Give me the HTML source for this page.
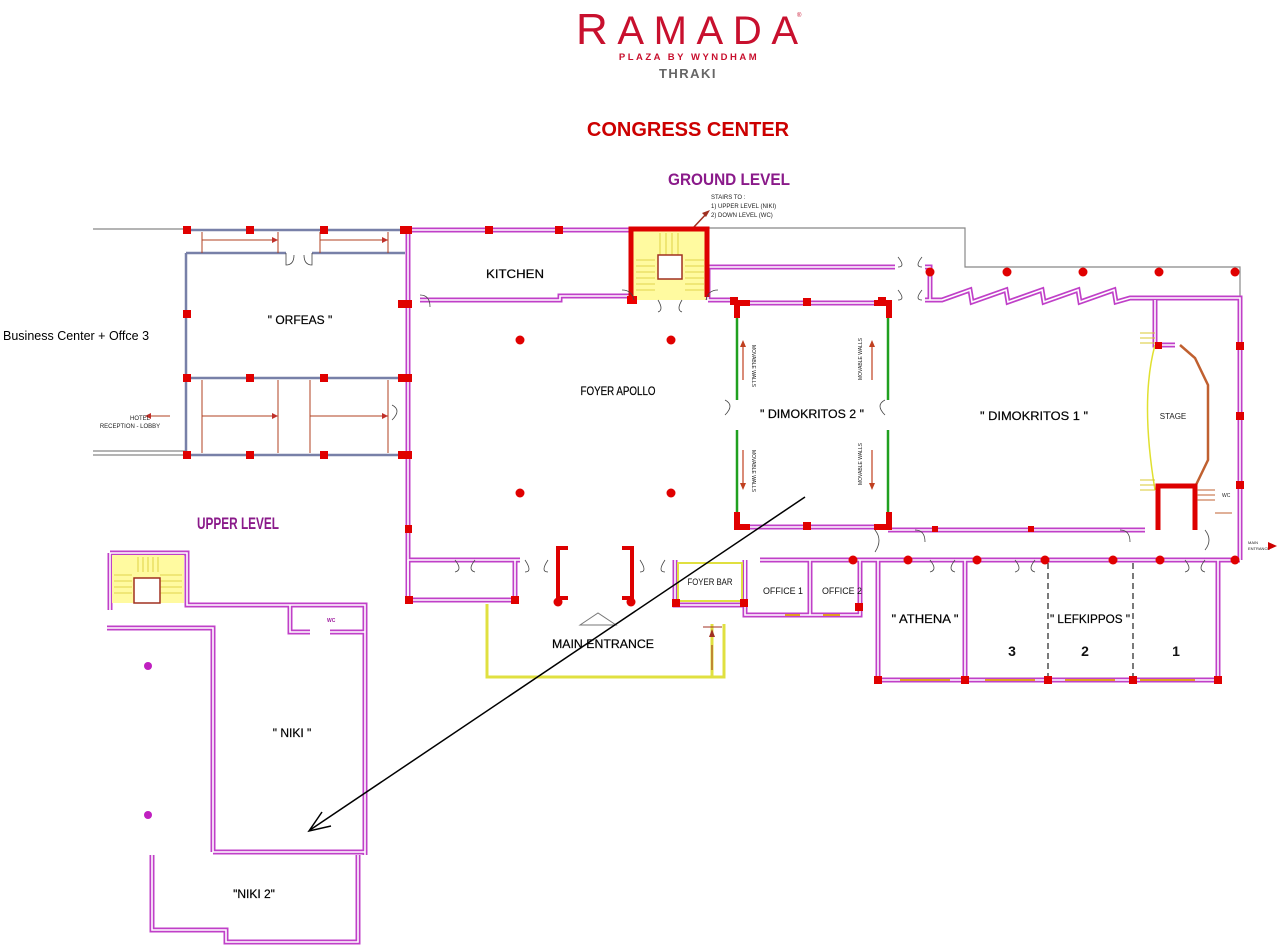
<!DOCTYPE html>
<html><head><meta charset="utf-8"><style>
html,body{margin:0;padding:0;background:#fff;}
svg{display:block;}
text{font-family:"Liberation Sans",sans-serif;}
</style></head><body>
<svg width="1280" height="947" viewBox="0 0 1280 947" xmlns="http://www.w3.org/2000/svg">
<!-- Header -->
<text x="576" y="44" font-family="Liberation Sans" font-size="44" fill="#c8102e" textLength="222" lengthAdjust="spacing">R<tspan font-size="40">AMADA</tspan></text>
<text x="797" y="17" font-size="6" fill="#c8102e">®</text>
<text x="689" y="60" text-anchor="middle" font-size="9.5" font-weight="bold" fill="#c8102e" letter-spacing="2.5">PLAZA BY WYNDHAM</text>
<text x="688" y="78" text-anchor="middle" font-size="13" font-weight="bold" fill="#666" letter-spacing="1.5">THRAKI</text>
<text x="688" y="136" text-anchor="middle" font-size="20" font-weight="bold" fill="#cc0000">CONGRESS CENTER</text>
<text x="729" y="185" text-anchor="middle" font-size="17" font-weight="bold" fill="#8a1a8a" textLength="122" lengthAdjust="spacingAndGlyphs">GROUND LEVEL</text>
<text x="238" y="529" text-anchor="middle" font-size="17" font-weight="bold" fill="#8a1a8a" textLength="82" lengthAdjust="spacingAndGlyphs">UPPER LEVEL</text>
<text x="711" y="199" font-size="6" fill="#222">STAIRS TO :</text>
<text x="711" y="208" font-size="6" fill="#222">1) UPPER LEVEL (NIKI)</text>
<text x="711" y="217" font-size="6" fill="#222">2) DOWN LEVEL (WC)</text>
<line x1="693" y1="228" x2="708" y2="212" stroke="#a03020" stroke-width="1.5"/>
<polygon points="710,210 702,213 706,217" fill="#a03020"/>

<g stroke="#888" stroke-width="1.2" fill="none">
<path d="M708 228 H965 V267 H1240 V300"/>
<path d="M93 229 H186"/><path d="M93 451 H186 M93 455 H186"/>
</g>

<g stroke="#7880a8" stroke-width="2.5" fill="none">
<path d="M186 230 H405"/>
<path d="M186 253 V455 H405"/>
<path d="M186 253 H286 M312 253 H405"/>
<path d="M186 378 H405"/>
</g>
<g stroke="#b04020" stroke-width="1" fill="none">
<path d="M202 232 V253 M278 232 V253 M320 232 V253 M388 232 V253"/>
<path d="M202 240 H276 M320 240 H388"/>
<path d="M202 380 V453 M278 380 V453 M310 380 V453 M388 380 V453"/>
<path d="M202 416 H276 M310 416 H388"/>
<path d="M145 416 H170"/>
</g>
<g fill="#c0302a"><polygon points="278,416 272,413 272,419"/><polygon points="388,416 382,413 382,419"/><polygon points="278,240 272,237 272,243"/><polygon points="388,240 382,237 382,243"/><polygon points="145,416 151,413 151,419"/></g>
<text x="140" y="420" font-size="6" fill="#222" text-anchor="middle">HOTEL</text>
<text x="130" y="428" font-size="6" fill="#222" text-anchor="middle">RECEPTION - LOBBY</text>

<g id="walls" fill="none">
<path d="M408 230 H630 M708 230"/>
<path d="M408 230 V600"/>
<path d="M420 300 H560 V296 H630"/>
<path d="M708 300 V267 H895"/>
<path d="M708 300 H737"/>
<path d="M925 267 H930 V300"/>
<path d="M737 303 H888"/>
<path d="M925 300 H942 L970 290 L972 302 L1006 290 L1008 302 L1042 290 L1044 302 L1078 290 L1080 302 L1114 290 L1116 302 L1130 298 H1240 V535"/>
<path d="M1155 300 V345 H1175"/>
<path d="M888 530 H1145"/>
<path d="M737 527 H888"/>
<path d="M408 560 H520 M408 560 V600 H515 V560"/>
<path d="M760 560 H1240"/>
<path d="M675 560 V605 H745 V560"/>
<path d="M745 560 V615 H860 V560 M810 560 V615"/>
<path d="M878 560 V680 H1218 V560"/>
<path d="M965 560 V680"/>
<path d="M1240 535 V560"/>
<path d="M110 553 H187 V605 H365 V855"/>
<path d="M110 553 V610"/>
<path d="M107 628 H213 V852"/>
<path d="M290 605 V632 H310 M330 632 H365"/>
<path d="M213 852 H365"/>
<path d="M152 855 V930 H226 V942 H358 V855"/>
</g>
<use href="#walls" stroke="#c040c8" stroke-width="5"/>
<use href="#walls" stroke="#fff" stroke-width="1.6"/>

<g stroke="#20a020" stroke-width="2.5"><path d="M737 315 V400 M737 430 V518 M888 315 V400 M888 430 V518"/></g>
<g fill="#e00000">
<path d="M734 300 h16 v6 h-10 v12 h-6z"/><path d="M874 300 h18 v18 h-6 v-12 h-12z"/>
<path d="M734 530 h16 v-6 h-10 v-12 h-6z"/><path d="M874 530 h18 v-18 h-6 v12 h-12z"/>
<rect x="803" y="298" width="8" height="8"/><rect x="803" y="522" width="8" height="8"/>
</g>
<g stroke="#c04020" stroke-width="1.2"><path d="M743 345 V380 M743 450 V485 M872 345 V380 M872 450 V485"/></g>
<g fill="#c04020"><polygon points="743,340 740,347 746,347"/><polygon points="743,490 740,483 746,483"/><polygon points="872,340 869,347 875,347"/><polygon points="872,490 869,483 875,483"/></g>
<g font-size="5" fill="#222"><text transform="translate(752,345) rotate(90)">MOVABLE WALLS</text><text transform="translate(752,450) rotate(90)">MOVABLE WALLS</text><text transform="translate(862,380) rotate(-90)">MOVABLE WALLS</text><text transform="translate(862,485) rotate(-90)">MOVABLE WALLS</text></g>

<rect x="632" y="230" width="74" height="70" fill="#fffaa0"/>
<g stroke="#d8c830" stroke-width="0.8"><path d="M636 260 H655 M636 266 H655 M636 272 H655 M636 278 H655 M636 284 H655 M636 290 H655 M685 260 H704 M685 266 H704 M685 272 H704 M685 278 H704 M685 284 H704 M685 290 H704 M660 233 V255 M666 233 V255 M672 233 V255 M678 233 V255"/></g>
<rect x="658" y="255" width="24" height="24" fill="#fff" stroke="#a03020" stroke-width="1.5"/>
<path d="M631 297 V229 H707 V297" fill="none" stroke="#d00" stroke-width="5"/>
<rect x="627" y="296" width="10" height="8" fill="#e00"/>

<path d="M1155 345 Q1140 400 1155 490" fill="none" stroke="#e0e030" stroke-width="1.5"/>
<path d="M1180 345 L1195 358 L1208 385 V460 L1195 487" fill="none" stroke="#c06030" stroke-width="2.5"/>
<g stroke="#d8c830" stroke-width="1"><path d="M1140 333 H1155 M1140 338 H1155 M1140 343 H1155 M1140 480 H1155 M1140 485 H1155 M1140 490 H1155"/></g>
<path d="M1158 530 V486 H1195 V530" fill="none" stroke="#d00" stroke-width="5"/>
<g stroke="#c06030"><path d="M1197 490 H1215 M1197 495 H1215 M1197 500 H1215 M1215 513 H1232"/></g>
<text x="1173" y="419" font-size="8" text-anchor="middle" fill="#222">STAGE</text>
<text x="1222" y="497" font-size="5" fill="#222">WC</text>
<text x="1248" y="544" font-size="4" fill="#222">MAIN</text>
<text x="1248" y="550" font-size="4" fill="#222">ENTRANCE</text>
<polygon points="1277,546 1268,542 1268,550" fill="#c00"/>

<path d="M568 548 H558 V598 H568 M622 548 H632 V598 H622" fill="none" stroke="#d00" stroke-width="4"/>
<path d="M487 604 V677 H724 V624 M712 624 V677" fill="none" stroke="#e0e040" stroke-width="3"/>
<path d="M703 627 H722 M712 645 V670" stroke="#a03020" stroke-width="1"/>
<polygon points="712,629 709,637 715,637" fill="#a03020"/>
<path d="M580 625 L598 613 L616 625 Z" fill="none" stroke="#777" stroke-width="1"/>
<rect x="678" y="563" width="64" height="38" fill="none" stroke="#e0e040" stroke-width="2"/>
<rect x="112" y="555" width="72" height="48" fill="#fffaa0"/>
<g stroke="#d8c830" stroke-width="0.8"><path d="M114 575 H132 M114 581 H132 M114 587 H132 M114 593 H132 M160 575 H182 M160 581 H182 M160 587 H182 M160 593 H182 M138 557 V572 M143 557 V572 M148 557 V572 M153 557 V572 M158 557 V572"/></g>
<rect x="134" y="578" width="26" height="25" fill="#fff" stroke="#a03020" stroke-width="1.5"/>
<text x="327" y="622" font-size="5" font-weight="bold" fill="#a020a0">WC</text>

<g fill="none" stroke="#444" stroke-width="0.8">
<path d="M286 253 v12 q8 0 8 -10 M312 253 v12 q-8 0 -8 -10"/>
<path d="M898 257 q8 10 0 10 M922 257 q-8 10 0 10 M898 290 q8 10 0 10 M922 290 q-8 10 0 10"/>
<path d="M658 300 q6 10 0 12 M682 300 q-6 10 0 12 M622 290 q10 0 12 10 M718 290 q-10 0 -12 10"/>
<path d="M725 400 q10 5 0 15 M885 400 q-10 5 0 15"/>
<path d="M455 560 q8 10 0 12 M475 560 q-8 10 0 12 M525 560 q8 12 0 12 M548 560 q-8 12 0 12 M640 560 q8 12 0 12 M665 560 q-8 12 0 12"/>
<path d="M875 530 q8 10 0 22 M915 530 q10 0 10 12 M1120 530 q10 0 10 12 M1205 530 q8 10 0 20"/>
<path d="M930 560 q8 10 0 12 M955 560 q-8 10 0 12 M1015 560 q8 10 0 12 M1035 560 q-8 10 0 12 M1185 560 q8 10 0 12 M1205 560 q-8 10 0 12"/>
<path d="M392 405 q10 5 0 15 M420 295 q10 0 10 12"/>
</g>

<path d="M1048 563 V677 M1133 563 V677" stroke="#222" stroke-width="1.2" stroke-dasharray="6,4"/>
<g stroke="#e0a020" stroke-width="2"><path d="M900 680 H950 M985 680 H1035 M1065 680 H1115 M1140 680 H1195 M785 615 H800 M823 615 H840"/></g>

<g fill="#e00000">
<rect x="183" y="226" width="8" height="8"/><rect x="246" y="226" width="8" height="8"/><rect x="320" y="226" width="8" height="8"/><rect x="400" y="226" width="12" height="8"/>
<rect x="485" y="226" width="8" height="8"/><rect x="555" y="226" width="8" height="8"/>
<rect x="183" y="310" width="8" height="8"/><rect x="398" y="300" width="14" height="8"/>
<rect x="183" y="374" width="8" height="8"/><rect x="246" y="374" width="8" height="8"/><rect x="320" y="374" width="8" height="8"/><rect x="398" y="374" width="14" height="8"/>
<rect x="183" y="451" width="8" height="8"/><rect x="246" y="451" width="8" height="8"/><rect x="320" y="451" width="8" height="8"/><rect x="398" y="451" width="14" height="8"/>
<rect x="405" y="525" width="7" height="8"/><rect x="405" y="596" width="8" height="8"/><rect x="511" y="596" width="8" height="8"/>
<rect x="672" y="599" width="8" height="8"/><rect x="740" y="599" width="8" height="8"/>
<rect x="855" y="603" width="8" height="8"/>
<rect x="874" y="676" width="8" height="8"/><rect x="961" y="676" width="8" height="8"/><rect x="1044" y="676" width="8" height="8"/><rect x="1129" y="676" width="8" height="8"/><rect x="1214" y="676" width="8" height="8"/>
<rect x="1236" y="342" width="8" height="8"/><rect x="1236" y="412" width="8" height="8"/><rect x="1236" y="481" width="8" height="8"/><rect x="1155" y="342" width="7" height="7"/>
<rect x="1028" y="526" width="6" height="6"/><rect x="932" y="526" width="6" height="6"/>
<rect x="730" y="297" width="8" height="8"/><rect x="878" y="297" width="8" height="8"/>
</g>
<g fill="#e00000">
<circle cx="520" cy="340" r="4.5"/><circle cx="671" cy="340" r="4.5"/><circle cx="520" cy="493" r="4.5"/><circle cx="671" cy="493" r="4.5"/>
<circle cx="558" cy="602" r="4.5"/><circle cx="631" cy="602" r="4.5"/>
<circle cx="930" cy="272" r="4.5"/><circle cx="1007" cy="272" r="4.5"/><circle cx="1083" cy="272" r="4.5"/><circle cx="1159" cy="272" r="4.5"/><circle cx="1235" cy="272" r="4.5"/>
<circle cx="853" cy="560" r="4.5"/><circle cx="908" cy="560" r="4.5"/><circle cx="977" cy="560" r="4.5"/><circle cx="1045" cy="560" r="4.5"/><circle cx="1113" cy="560" r="4.5"/><circle cx="1160" cy="560" r="4.5"/><circle cx="1235" cy="560" r="4.5"/>
</g>
<g fill="#c020c0"><circle cx="148" cy="666" r="4"/><circle cx="148" cy="815" r="4"/></g>

<g fill="#000" font-size="12" stroke="#000" stroke-width="0.2">
<text x="515" y="278" text-anchor="middle" textLength="58" lengthAdjust="spacingAndGlyphs">KITCHEN</text>
<text x="300" y="324" text-anchor="middle">" ORFEAS "</text>
<text x="618" y="395" text-anchor="middle" textLength="75" lengthAdjust="spacingAndGlyphs">FOYER APOLLO</text>
<text x="812" y="418" text-anchor="middle" textLength="104" lengthAdjust="spacingAndGlyphs">" DIMOKRITOS 2 "</text>
<text x="1034" y="420" text-anchor="middle" textLength="108" lengthAdjust="spacingAndGlyphs">" DIMOKRITOS 1 "</text>
<text x="603" y="648" text-anchor="middle" textLength="102" lengthAdjust="spacingAndGlyphs">MAIN ENTRANCE</text>
<text x="925" y="623" text-anchor="middle" textLength="67" lengthAdjust="spacingAndGlyphs">" ATHENA "</text>
<text x="1090" y="623" text-anchor="middle" textLength="80" lengthAdjust="spacingAndGlyphs">" LEFKIPPOS "</text>
<text x="292" y="737" text-anchor="middle">" NIKI "</text>
<text x="254" y="898" text-anchor="middle">"NIKI 2"</text>
</g>
<text x="3" y="340" font-size="12.5" fill="#000">Business Center + Offce 3</text>
<g fill="#111" font-size="9">
<text x="710" y="585" text-anchor="middle" textLength="45" lengthAdjust="spacingAndGlyphs">FOYER BAR</text>
<text x="783" y="594" text-anchor="middle" textLength="40" lengthAdjust="spacingAndGlyphs">OFFICE 1</text>
<text x="842" y="594" text-anchor="middle" textLength="40" lengthAdjust="spacingAndGlyphs">OFFICE 2</text>
</g>
<g fill="#111" font-size="14" font-weight="bold"><text x="1012" y="656" text-anchor="middle">3</text><text x="1085" y="656" text-anchor="middle">2</text><text x="1176" y="656" text-anchor="middle">1</text></g>

<line x1="805" y1="497" x2="310" y2="830" stroke="#000" stroke-width="1.5"/>
<path d="M322 812 L309 831 L331 826" fill="none" stroke="#000" stroke-width="1.5"/>
</svg>
</body></html>
